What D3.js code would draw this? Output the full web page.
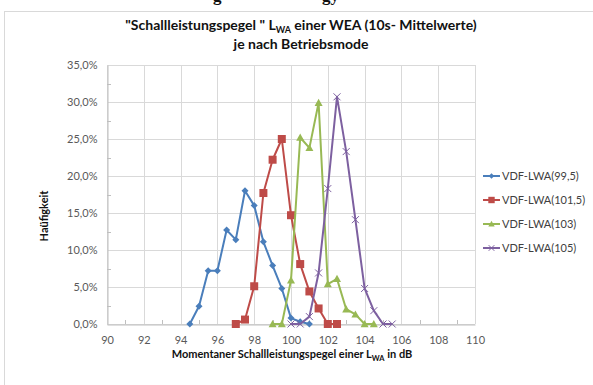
<!DOCTYPE html>
<html>
<head>
<meta charset="utf-8">
<script src="https://cdn.jsdelivr.net/npm/d3@7"></script>
<style>
  html, body { margin: 0; padding: 0; background: #fff; }
  svg { display: block; }
  text { font-family: Lato, "Liberation Sans", sans-serif; }
</style>
</head>
<body>
<svg id="chart" width="593" height="385"></svg>
<script>
// Sound power level classes (dB)
const levels = [94, 94.5, 95, 95.5, 96, 96.5, 97, 97.5, 98, 98.5, 99, 99.5, 100, 100.5, 101, 101.5, 102, 102.5, 103, 103.5, 104, 104.5, 105, 105.5];

// Frequency (%) per operating mode
const mode995 = [
  [94.5, 0], [95, 2.4], [95.5, 7.2], [96, 7.2], [96.5, 12.7], [97, 11.4], [97.5, 18.0],
  [98, 16.0], [98.5, 11.1], [99, 7.9], [99.5, 4.8], [100, 0.8], [100.5, 0.3], [101, 0]
];
const mode1015 = [
  [97, 0], [97.5, 0.6], [98, 5.1], [98.5, 17.7], [99, 22.2], [99.5, 25.0], [100, 14.7],
  [100.5, 8.1], [101, 4.4], [101.5, 2.1], [102, 0], [102.5, 0]
];
const mode103 = [
  [99, 0], [99.5, 0], [100, 5.9], [100.5, 25.2], [101, 23.8], [101.5, 29.9], [102, 5.4],
  [102.5, 6.1], [103, 2.0], [103.5, 1.3], [104, 0], [104.5, 0]
];
const mode105 = [
  [100, 0], [100.5, 0], [101, 1.0], [101.5, 6.9], [102, 18.3], [102.5, 30.7], [103, 23.3],
  [103.5, 14.1], [104, 4.8], [104.5, 1.8], [105, 0], [105.5, 0]
];

const seriesNames = ["VDF-LWA(99,5)", "VDF-LWA(101,5)", "VDF-LWA(103)", "VDF-LWA(105)"];
const xTicks = [90, 92, 94, 96, 98, 100, 102, 104, 106, 108, 110];
const yTicks = [0, 5, 10, 15, 20, 25, 30, 35];

const series = [
  { name: seriesNames[0], values: mode995, color: "#4a7ebb", marker: "diamond" },
  { name: seriesNames[1], values: mode1015, color: "#be4b48", marker: "square" },
  { name: seriesNames[2], values: mode103, color: "#98b954", marker: "triangle" },
  { name: seriesNames[3], values: mode105, color: "#7d60a0", marker: "cross" }
];

const svg = d3.select("#chart");

// Plot area
const plotLeft = 107, plotRight = 475, plotTop = 65, plotBottom = 324;
const x = d3.scaleLinear().domain([90, 110]).range([plotLeft, plotRight]);
const y = d3.scaleLinear().domain([0, 35]).range([plotBottom, plotTop]);

// Outer chart frame
svg.append("rect")
  .attr("x", 4.5).attr("y", 11.5).attr("width", 600).attr("height", 400)
  .attr("fill", "#fff").attr("stroke", "#d9d9d9").attr("stroke-width", 1);

// Caption fragment running off the top edge
svg.append("text")
  .attr("x", 213).attr("y", 1)
  .style("font-family", "'Liberation Serif', serif").style("font-weight", "bold").style("font-size", "17px")
  .attr("fill", "#111").text("g");
svg.append("text")
  .attr("x", 322).attr("y", 1)
  .style("font-family", "'Liberation Serif', serif").style("font-weight", "bold").style("font-size", "17px")
  .attr("fill", "#111").text("gy");

// Title
const title = svg.append("text")
  .attr("x", 301).attr("y", 30)
  .attr("text-anchor", "middle")
  .style("font-weight", "bold").style("font-size", "14px").attr("fill", "#111");
title.append("tspan").text("\"Schallleistungspegel \" L");
title.append("tspan").attr("dy", 2.5).style("font-size", "9px").text("WA");
title.append("tspan").attr("dy", -2.5).text(" einer WEA (10s- Mittelwerte)");
svg.append("text")
  .attr("x", 301).attr("y", 49)
  .attr("text-anchor", "middle")
  .style("font-weight", "bold").style("font-size", "14px").attr("fill", "#111")
  .text("je nach Betriebsmode");

// Gridlines
svg.append("g").selectAll("line").data(yTicks).join("line")
  .attr("x1", plotLeft).attr("x2", plotRight)
  .attr("y1", d => Math.round(y(d)) + 0.5).attr("y2", d => Math.round(y(d)) + 0.5)
  .attr("stroke", "#d9d9d9");
svg.append("g").selectAll("line").data(xTicks).join("line")
  .attr("y1", plotTop).attr("y2", plotBottom)
  .attr("x1", d => Math.round(x(d)) + 0.5).attr("x2", d => Math.round(x(d)) + 0.5)
  .attr("stroke", "#d9d9d9");

// Axes
const yAxis = d3.axisLeft(y).tickValues(yTicks).tickSize(0).tickPadding(10)
  .tickFormat(d => d3.format(".1f")(d).replace(".", ",") + "%");
const gy = svg.append("g").attr("transform", `translate(${plotLeft + 0.5},0)`).call(yAxis);
gy.select(".domain").attr("stroke", "#bfbfbf");
gy.selectAll("text").style("font-size", "11px").attr("fill", "#595959");

const xAxis = d3.axisBottom(x).tickValues(xTicks).tickSize(0).tickPadding(12);
const gx = svg.append("g").attr("transform", `translate(0,${plotBottom + 0.5})`).call(xAxis);
gx.select(".domain").attr("stroke", "#bfbfbf");
gx.selectAll("text").style("font-size", "11px").attr("fill", "#595959");

// Minor ticks
const yMinor = d3.range(2.5, 35, 5);
svg.append("g").selectAll("line").data(yMinor).join("line")
  .attr("x1", plotLeft).attr("x2", plotLeft + 4)
  .attr("y1", d => Math.round(y(d)) + 0.5).attr("y2", d => Math.round(y(d)) + 0.5)
  .attr("stroke", "#bfbfbf");
const xMinor = d3.range(91, 110, 2);
svg.append("g").selectAll("line").data(xMinor).join("line")
  .attr("y1", plotBottom - 4).attr("y2", plotBottom)
  .attr("x1", d => Math.round(x(d)) + 0.5).attr("x2", d => Math.round(x(d)) + 0.5)
  .attr("stroke", "#bfbfbf");

// Axis titles
svg.append("text")
  .attr("transform", "translate(48,216) rotate(-90)")
  .attr("text-anchor", "middle")
  .style("font-weight", "bold").style("font-size", "11px").attr("fill", "#111")
  .text("Haüfigkeit");
const xt = svg.append("text")
  .attr("x", 292).attr("y", 358)
  .attr("text-anchor", "middle")
  .style("font-weight", "bold").style("font-size", "11px").attr("fill", "#111");
xt.append("tspan").text("Momentaner Schallleistungspegel einer L");
xt.append("tspan").attr("dy", 3).style("font-size", "7.5px").text("WA");
xt.append("tspan").attr("dy", -3).text(" in dB");

// Markers
function drawMarker(g, type, color, size) {
  const s = size;
  if (type === "diamond") {
    g.append("path").attr("d", `M0,${-s}L${s},0L0,${s}L${-s},0Z`).attr("fill", color);
  } else if (type === "square") {
    g.append("rect").attr("x", -s).attr("y", -s).attr("width", 2 * s).attr("height", 2 * s).attr("fill", color);
  } else if (type === "triangle") {
    g.append("path").attr("d", `M0,${-s}L${s},${s * 0.8}L${-s},${s * 0.8}Z`).attr("fill", color);
  } else {
    g.append("path").attr("d", `M${-s},${-s}L${s},${s}M${-s},${s}L${s},${-s}`)
      .attr("stroke", color).attr("stroke-width", 1).attr("fill", "none");
  }
}
const markerSize = { diamond: 3.5, square: 4, triangle: 4, cross: 3.5 };

const line = d3.line().x(d => x(d[0])).y(d => y(d[1]));

series.forEach(s => {
  const g = svg.append("g");
  g.append("path").datum(s.values).attr("d", line)
    .attr("fill", "none").attr("stroke", s.color).attr("stroke-width", 2)
    .attr("stroke-linejoin", "round");
  s.values.forEach(v => {
    const m = g.append("g").attr("transform", `translate(${x(v[0])},${y(v[1])})`);
    drawMarker(m, s.marker, s.color, markerSize[s.marker]);
  });
});

// Legend
const legend = svg.append("g");
series.forEach((s, i) => {
  const ly = 176 + i * 24;
  const g = legend.append("g").attr("transform", `translate(483,${ly})`);
  g.append("line").attr("x1", 0).attr("x2", 17).attr("y1", 0).attr("y2", 0)
    .attr("stroke", s.color).attr("stroke-width", 2);
  const m = g.append("g").attr("transform", "translate(8.5,0)");
  drawMarker(m, s.marker, s.color, markerSize[s.marker] * 0.8);
  g.append("text").attr("x", 19).attr("y", 4)
    .style("font-size", "11px").attr("fill", "#404040").text(s.name);
});
</script>
</body>
</html>
